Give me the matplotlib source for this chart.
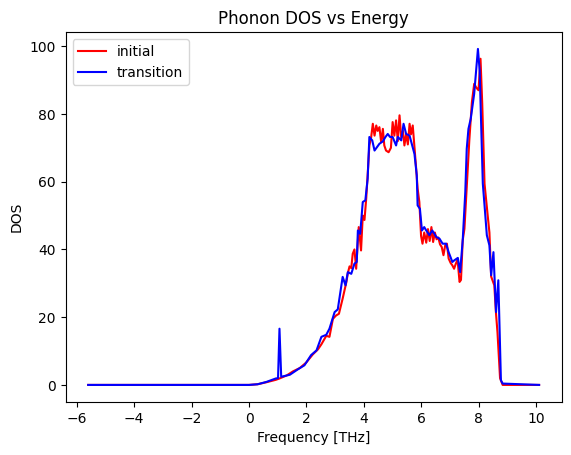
import matplotlib
matplotlib.use("Agg")
import matplotlib.pyplot as plt

freq_initial = [-5.6, 0.0, 0.3, 0.61, 0.93, 1.06, 1.31, 1.53, 1.77, 1.99, 2.22, 2.40, 2.52, 2.69, 2.80,
                2.92, 3.03, 3.13, 3.26, 3.39, 3.44, 3.50, 3.56, 3.61, 3.67, 3.73, 3.82, 3.90, 3.96, 4.02,
                4.08, 4.13, 4.19, 4.25, 4.31, 4.37, 4.43, 4.48, 4.54, 4.60, 4.66, 4.71, 4.77, 4.86, 4.94,
                5.00, 5.06, 5.12, 5.18, 5.24, 5.30, 5.36, 5.41, 5.47, 5.53, 5.59, 5.64, 5.70, 5.76, 5.82,
                5.87, 5.93, 5.99, 6.04, 6.10, 6.17, 6.23, 6.29, 6.35, 6.41, 6.47, 6.53, 6.59, 6.65, 6.71,
                6.77, 6.83, 6.89, 6.95, 7.02, 7.08, 7.14, 7.20, 7.26, 7.33, 7.38, 7.44, 7.50, 7.58, 7.67,
                7.76, 7.84, 7.91, 7.99, 8.06, 8.12, 8.20, 8.31, 8.37, 8.43, 8.54, 8.60, 8.65, 8.74, 8.83,
                10.1]
dos_initial = [0, 0, 0.2, 0.8, 1.5, 1.9, 2.8, 4.0, 5.0, 6.6, 9.0, 10.5, 12, 14.5, 14.2,
               19.5, 20.5, 21, 25.5, 30.4, 33, 35, 34.5, 38.7, 40, 34.3, 46.6, 39.7, 50, 48.7,
               55, 61.9, 70.7, 73, 77.1, 73.6, 76.6, 75, 76.1, 71.7, 75.6, 70.7, 69.2, 68.7, 70,
               77.6, 73.6, 78.1, 72, 79.6, 73, 75, 70.7, 74, 71, 77.1, 74, 76.6, 70.2, 63.8,
               58, 54, 44, 41.7, 45, 42, 46, 42.5, 46.6, 42.2, 45, 43, 43.5, 41.5, 40.7,
               38.3, 41.2, 41.7, 37.3, 36, 35.3, 34.3, 35.8, 37, 30.4, 31, 42.7, 46.1, 58.4, 72.2,
               83.5, 88.9, 87.8, 87, 96.3, 83, 59.4, 50, 45, 32, 29.4, 21, 15.6, 2, 0,
               0]

freq_transition = [-5.6, 0.0, 0.3, 0.61, 0.93, 1.01, 1.06, 1.12, 1.42, 1.70, 1.93, 2.16, 2.35, 2.52, 2.69,
                   2.80, 2.98, 3.09, 3.26, 3.36, 3.44, 3.56, 3.67, 3.75, 3.79, 3.87, 3.96, 4.05, 4.13, 4.19,
                   4.29, 4.37, 4.54, 4.66, 4.75, 4.83, 4.91, 5.00, 5.12, 5.18, 5.30, 5.38, 5.47, 5.59, 5.76,
                   5.84, 5.87, 5.95, 6.02, 6.10, 6.17, 6.28, 6.38, 6.52, 6.63, 6.74, 6.86, 6.95, 7.08, 7.15,
                   7.27, 7.35, 7.44, 7.53, 7.58, 7.64, 7.72, 7.84, 7.97, 8.03, 8.14, 8.20, 8.28, 8.37, 8.43,
                   8.51, 8.60, 8.68, 8.77, 8.83, 10.1]
dos_transition = [0, 0, 0.2, 0.9, 1.9, 2.0, 16.6, 2.4, 3.0, 4.6, 5.8, 8.8, 10.2, 14.2, 14.8,
                  16.6, 21.5, 22.3, 31.9, 29.4, 33.3, 32.8, 35.8, 36.3, 45.6, 44.6, 54, 54.5, 60.9, 73.2,
                  72.2, 69.2, 71.2, 71.9, 73.2, 74.1, 73.2, 73.2, 70.7, 73.2, 72.2, 77.1, 74.1, 73.6, 68.2,
                  61.9, 53, 52, 45.6, 46.6, 45.6, 44.2, 45.6, 43.7, 43.2, 41.7, 41.7, 39.2, 36.3, 36.8,
                  37.5, 33.3, 42.7, 57, 69.7, 75.6, 78.6, 86, 99.2, 92.8, 59.4, 53, 44.2, 41.2, 32.4,
                  39.2, 21.5, 30.9, 1.4, 0.4, 0]

fig, ax = plt.subplots(figsize=(6.4, 4.8), dpi=100)
ax.plot(freq_initial, dos_initial, color="red", label="initial")
ax.plot(freq_transition, dos_transition, color="blue", label="transition")
ax.set_title("Phonon DOS vs Energy")
ax.set_xlabel("Frequency [THz]")
ax.set_ylabel("DOS")
ax.legend(loc="upper left")
fig.savefig("out.png", dpi=100, bbox_inches="tight")
